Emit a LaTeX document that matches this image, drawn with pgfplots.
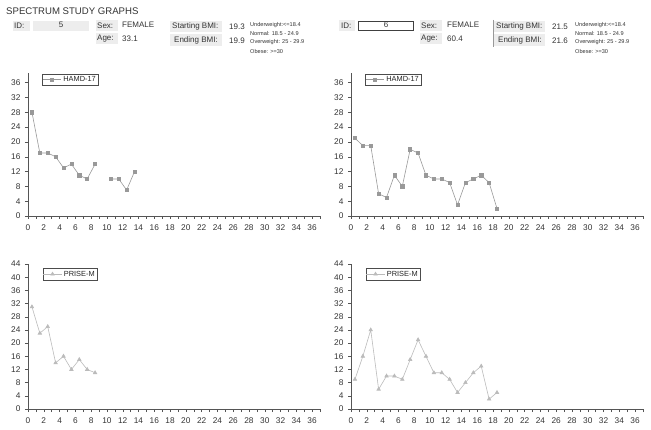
\documentclass[border=0pt]{standalone}
\usepackage{pgfplots}
\pgfplotsset{compat=1.18}
\usepackage{fontspec}
\setmainfont{Liberation Sans}
\definecolor{boxgray}{HTML}{EDEDED}
\definecolor{hamd}{HTML}{999999}
\definecolor{prise}{HTML}{BBBBBB}
\definecolor{axgray}{HTML}{555555}
\definecolor{hdtext}{HTML}{333333}
\newcommand{\tk}{\fontsize{8.3}{9}\selectfont}
\newcommand{\hd}{\fontsize{8}{9}\selectfont\color{hdtext}}
\newcommand{\sm}{\fontsize{5.6}{6}\selectfont\color{hdtext}}
\pgfplotsset{
  myaxis/.style={
    scale only axis, width=292pt,
    axis lines=left, axis line style={draw=axgray,-},
    xmin=0, xmax=37,
    xtick={0,2,...,36}, minor xtick={1,3,...,37},
    tick align=outside, major tick length=3pt, minor tick length=3pt,
    tick style={draw=axgray, line width=0.5pt},
    every tick/.style={draw=axgray},
    ticklabel style={font=\tk, text=black!80},
    /pgf/number format/assume math mode=true,
    xticklabel style={yshift=-2pt},
    yticklabel style={xshift=-1pt},
    clip=false,
    unbounded coords=jump,
    legend style={anchor=north west, draw=black!70, font=\fontsize{7.4}{7.5}\selectfont,
      inner sep=0.3pt, row sep=-1pt, text=black!85},
    legend image code/.code={
      \draw[mark repeat=2,mark phase=2,#1] plot coordinates {(0cm,0cm) (0.32cm,0cm) (0.64cm,0cm)};},
  },
  hamdplot/.style={color=hamd, line width=0.6pt, mark=square*, mark size=1.6pt, mark options={fill=hamd, draw=hamd}},
  priseplot/.style={color=prise, line width=0.6pt, mark=triangle*, mark size=2pt, mark options={fill=prise, draw=prise}},
}
\begin{document}
\begin{tikzpicture}
\path[use as bounding box] (0,0) rectangle (651pt,-430pt);
% ---------- header ----------
\node[anchor=west, inner sep=0, font=\fontsize{9.6}{10}\selectfont\color{hdtext}] at (6pt,-11pt) {SPECTRUM STUDY GRAPHS};
% left header
\fill[boxgray] (13pt,-21pt) rectangle (30pt,-31pt);
\node[anchor=west, inner sep=0, font=\hd] at (14pt,-26pt) {ID:};
\fill[boxgray] (33pt,-21pt) rectangle (89pt,-31pt);
\node[inner sep=0, font=\hd] at (61pt,-25pt) {5};
\fill[boxgray] (96pt,-20pt) rectangle (118pt,-31pt);
\fill[boxgray] (96pt,-33pt) rectangle (118pt,-44pt);
\node[anchor=west, inner sep=0, font=\hd] at (97pt,-25.5pt) {Sex:};
\node[anchor=west, inner sep=0, font=\hd] at (122pt,-25pt) {FEMALE};
\node[anchor=west, inner sep=0, font=\hd] at (97pt,-38.5pt) {Age:};
\node[anchor=west, inner sep=0, font=\hd] at (122pt,-38.5pt) {33.1};
\fill[boxgray] (170pt,-21pt) rectangle (222pt,-32pt);
\node[anchor=west, inner sep=0, font=\hd] at (172pt,-26.5pt) {Starting BMI:};
\node[anchor=west, inner sep=0, font=\hd] at (229pt,-26.5pt) {19.3};
\fill[boxgray] (170pt,-34pt) rectangle (222pt,-46pt);
\node[anchor=west, inner sep=0, font=\hd] at (174pt,-40.5pt) {Ending BMI:};
\node[anchor=west, inner sep=0, font=\hd] at (229pt,-40.5pt) {19.9};
\node[anchor=west, inner sep=0, font=\sm] at (250pt,-25pt) {Underweight:<=18.4};
\node[anchor=west, inner sep=0, font=\sm] at (250pt,-33.5pt) {Normal: 18.5 - 24.9};
\node[anchor=west, inner sep=0, font=\sm] at (250pt,-42.5pt) {Overweight: 25 - 29.9};
\node[anchor=west, inner sep=0, font=\sm] at (250pt,-51.5pt) {Obese: >=30};
% right header
\fill[boxgray] (339pt,-20pt) rectangle (355pt,-31pt);
\node[anchor=west, inner sep=0, font=\hd] at (341pt,-25.5pt) {ID:};
\draw[black!75, line width=0.6pt] (358pt,-21pt) rectangle (413pt,-30pt);
\node[inner sep=0, font=\hd] at (386pt,-25pt) {6};
\fill[boxgray] (420pt,-20pt) rectangle (442pt,-31pt);
\fill[boxgray] (420pt,-33pt) rectangle (442pt,-44pt);
\node[anchor=west, inner sep=0, font=\hd] at (421pt,-25.5pt) {Sex:};
\node[anchor=west, inner sep=0, font=\hd] at (447pt,-25pt) {FEMALE};
\node[anchor=west, inner sep=0, font=\hd] at (421pt,-38.5pt) {Age:};
\node[anchor=west, inner sep=0, font=\hd] at (447pt,-38.5pt) {60.4};
\fill[boxgray] (493pt,-21pt) rectangle (545pt,-32pt);
\fill[boxgray] (493pt,-34pt) rectangle (545pt,-46pt);
\draw[black!40, line width=0.5pt] (493pt,-20pt) -- (493pt,-47pt);
\node[anchor=west, inner sep=0, font=\hd] at (496pt,-26.5pt) {Starting BMI:};
\node[anchor=west, inner sep=0, font=\hd] at (552pt,-26.5pt) {21.5};
\node[anchor=west, inner sep=0, font=\hd] at (498pt,-40.5pt) {Ending BMI:};
\node[anchor=west, inner sep=0, font=\hd] at (552pt,-40.5pt) {21.6};
\node[anchor=west, inner sep=0, font=\sm] at (575pt,-25pt) {Underweight:<=18.4};
\node[anchor=west, inner sep=0, font=\sm] at (575pt,-33.5pt) {Normal: 18.5 - 24.9};
\node[anchor=west, inner sep=0, font=\sm] at (575pt,-42.5pt) {Overweight: 25 - 29.9};
\node[anchor=west, inner sep=0, font=\sm] at (575pt,-51.5pt) {Obese: >=30};
% ---------- top left ----------
\begin{axis}[myaxis, at={(28pt,-216pt)}, anchor=south west, height=143pt,
  ymin=0, ymax=38.6, ytick={0,4,...,36},
  legend style={at={(0.048,0.995)}}]
\addplot[hamdplot] coordinates {(0.5,28) (1.5,17) (2.5,17) (3.5,16) (4.5,13) (5.5,14) (6.5,11) (7.5,10) (8.5,14) (9.5,nan) (10.5,10) (11.5,10) (12.5,7) (13.5,12)};
\addlegendentry{HAMD-17}
\end{axis}
% ---------- top right ----------
\begin{axis}[myaxis, at={(351pt,-216pt)}, anchor=south west, height=143pt,
  ymin=0, ymax=38.6, ytick={0,4,...,36},
  legend style={at={(0.048,0.995)}}]
\addplot[hamdplot] coordinates {(0.5,21) (1.5,19) (2.5,19) (3.5,6) (4.5,5) (5.5,11) (6.5,8) (7.5,18) (8.5,17) (9.5,11) (10.5,10) (11.5,10) (12.5,9) (13.5,3) (14.5,9) (15.5,10) (16.5,11) (17.5,9) (18.5,2)};
\addlegendentry{HAMD-17}
\end{axis}
% ---------- bottom left ----------
\begin{axis}[myaxis, at={(28pt,-409pt)}, anchor=south west, height=145pt,
  ymin=0, ymax=44, ytick={0,4,...,44},
  legend style={at={(0.05,0.97)}}]
\addplot[priseplot] coordinates {(0.5,31) (1.5,23) (2.5,25) (3.5,14) (4.5,16) (5.5,12) (6.5,15) (7.5,12) (8.5,11)};
\addlegendentry{PRISE-M}
\end{axis}
% ---------- bottom right ----------
\begin{axis}[myaxis, at={(351pt,-409pt)}, anchor=south west, height=145pt,
  ymin=0, ymax=44, ytick={0,4,...,44},
  legend style={at={(0.05,0.97)}}]
\addplot[priseplot] coordinates {(0.5,9) (1.5,16) (2.5,24) (3.5,6) (4.5,10) (5.5,10) (6.5,9) (7.5,15) (8.5,21) (9.5,16) (10.5,11) (11.5,11) (12.5,9) (13.5,5) (14.5,8) (15.5,11) (16.5,13) (17.5,3) (18.5,5)};
\addlegendentry{PRISE-M}
\end{axis}
\end{tikzpicture}
\end{document}
